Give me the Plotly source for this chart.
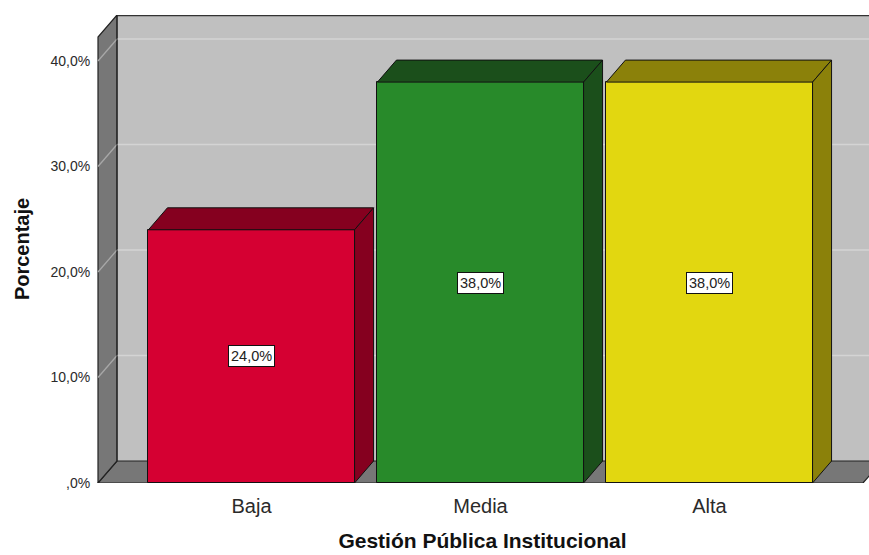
import plotly.graph_objects as go

# ---- data ----
categories = ["Baja", "Media", "Alta"]
percentages = [24.0, 38.0, 38.0]
value_labels = ["24,0%", "38,0%", "38,0%"]
y_tick_values = [0, 10, 20, 30, 40]
y_tick_labels = [",0%", "10,0%", "20,0%", "30,0%", "40,0%"]

front_colors = ["#d50032", "#288a2a", "#e2d710"]
dark_colors = ["#85001f", "#1b4f1b", "#8b810a"]

# ---- geometry (pixel based scales) ----
W, H = 869, 555
ML, MR, MT, MB = 96, 0, 15, 555 - 483
PX_PER_CAT = 229.0
PX_PER_PCT = 10.55
WALL_PX = 98            # pixel x of the front-left wall edge
CAT0_PX = 251.5         # pixel x of first category centre
DEPTH_X_PX, DEPTH_Y_PX = 19.0, 22.0

x0 = -(CAT0_PX - ML) / PX_PER_CAT
x1 = x0 + (W - ML - MR) / PX_PER_CAT
y1 = (H - MT - MB) / PX_PER_PCT
DX = DEPTH_X_PX / PX_PER_CAT
DY = DEPTH_Y_PX / PX_PER_PCT
xw = -(CAT0_PX - WALL_PX) / PX_PER_CAT           # front-left wall in data units
xr = (len(categories) - 1) - xw                  # symmetric right edge
BAR_W = 0.9

WALL_DARK = "#777777"
WALL_LIGHT = "#c0c0c0"
GRID_COL = "#d4d4d4"

shapes = []
# back wall
shapes.append(dict(type="rect", xref="x", yref="y", x0=xw + DX, x1=x1 + 1, y0=DY, y1=y1 + 1,
                   fillcolor=WALL_LIGHT, line=dict(width=0), layer="below"))
# floor
shapes.append(dict(type="path", xref="x", yref="y",
                   path=f"M{xw},0 L{xw+DX},{DY} L{xr+DX},{DY} L{xr},0 Z",
                   fillcolor=WALL_DARK, line=dict(color="#222", width=1.2), layer="below"))
# left wall
shapes.append(dict(type="path", xref="x", yref="y",
                   path=f"M{xw},0 L{xw},{y1-DY} L{xw+DX},{y1} L{xw+DX},{DY} Z",
                   fillcolor=WALL_DARK, line=dict(color="#222", width=1.2), layer="below"))
# grid lines on back wall and left wall
for v in y_tick_values[1:]:
    shapes.append(dict(type="line", xref="x", yref="y", x0=xw + DX, x1=x1 + 1, y0=v + DY, y1=v + DY,
                       line=dict(color=GRID_COL, width=1.3), layer="below"))
    shapes.append(dict(type="line", xref="x", yref="y", x0=xw, x1=xw + DX, y0=v, y1=v + DY,
                       line=dict(color="#a8a8a8", width=1.3), layer="below"))
# top edge of back wall and back-left vertical edge
shapes.append(dict(type="line", xref="x", yref="y", x0=xw + DX, x1=x1 + 1, y0=y1 - 0.05, y1=y1 - 0.05,
                   line=dict(color="#333", width=1.5), layer="below"))
shapes.append(dict(type="line", xref="x", yref="y", x0=xw + DX, x1=xw + DX, y0=DY, y1=y1,
                   line=dict(color="#222", width=1), layer="below"))

fig = go.Figure()
xs = list(range(len(categories)))
fig.add_trace(go.Bar(x=xs, y=percentages, width=BAR_W,
                     marker=dict(color=front_colors, line=dict(color="#111", width=1)),
                     hoverinfo="skip", showlegend=False))

# 3D top and side faces computed from the data
for i, v in enumerate(percentages):
    l, r = i - BAR_W / 2, i + BAR_W / 2
    fig.add_trace(go.Scatter(x=[l, l + DX, r + DX, r, l], y=[v, v + DY, v + DY, v, v],
                             fill="toself", fillcolor=dark_colors[i], mode="lines",
                             line=dict(color="#111", width=1), hoverinfo="skip", showlegend=False))
    fig.add_trace(go.Scatter(x=[r, r, r + DX, r + DX, r], y=[0, v, v + DY, DY, 0],
                             fill="toself", fillcolor=dark_colors[i], mode="lines",
                             line=dict(color="#111", width=1), hoverinfo="skip", showlegend=False))

annotations = []
for i, v in enumerate(percentages):
    annotations.append(dict(x=i, y=v / 2, xref="x", yref="y", text=value_labels[i], showarrow=False,
                            bgcolor="white", bordercolor="#111", borderwidth=1, borderpad=2,
                            font=dict(family="Liberation Sans, Arial", size=14.5, color="#222")))

fig.update_layout(
    width=W, height=H,
    margin=dict(l=ML, r=MR, t=MT, b=MB, autoexpand=False),
    paper_bgcolor="white", plot_bgcolor="white",
    shapes=shapes, annotations=annotations,
    font=dict(family="Liberation Sans, Arial", color="#222"),
    bargap=0,
    xaxis=dict(range=[x0, x1], tickvals=xs, ticktext=categories, showgrid=False, zeroline=False,
               showline=False, ticks="outside", ticklen=5, tickcolor="rgba(0,0,0,0)",
               tickfont=dict(size=20, color="#2a2a2a"),
               title=dict(text="<b>Gestión Pública Institucional</b>", font=dict(size=21, color="#111"),
                          standoff=17),
               fixedrange=True),
    yaxis=dict(range=[0, y1], tickvals=y_tick_values, ticktext=y_tick_labels, showgrid=False,
               zeroline=False, showline=False, ticks="outside", ticklen=2, tickcolor="rgba(0,0,0,0)",
               tickfont=dict(size=14, color="#2a2a2a"),
               title=dict(text="<b>Porcentaje</b>", font=dict(size=20, color="#111"), standoff=15),
               fixedrange=True),
)

fig.write_html("out.html", config={"displayModeBar": False},
               post_script="document.body.style.margin='0';document.body.style.overflow='hidden';")
